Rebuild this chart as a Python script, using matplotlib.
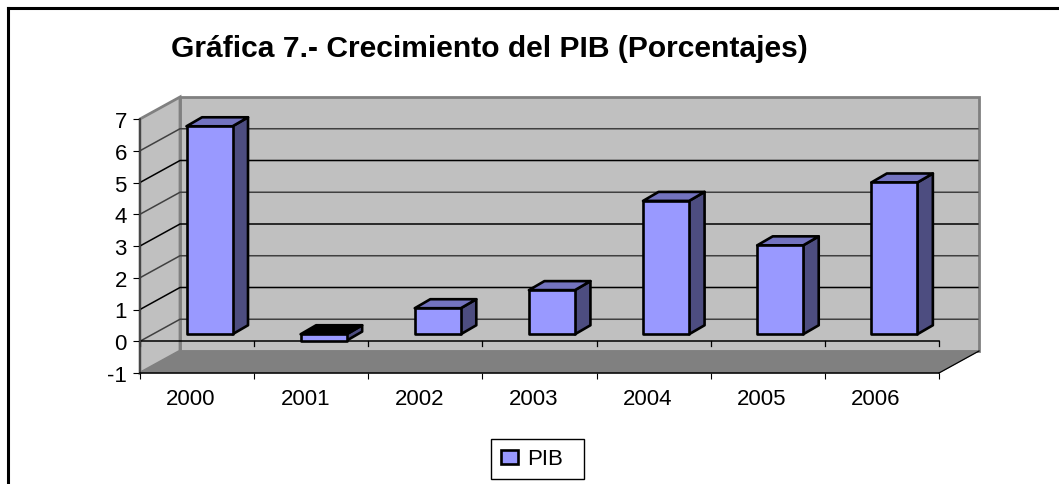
import matplotlib
matplotlib.use("Agg")
import matplotlib.pyplot as plt
from matplotlib.patches import Polygon, Patch, Rectangle
from matplotlib.lines import Line2D

plt.rcParams['font.family'] = ['Liberation Sans', 'DejaVu Sans']

years = ["2000", "2001", "2002", "2003", "2004", "2005", "2006"]
pib = [6.55, -0.2, 0.82, 1.39, 4.2, 2.8, 4.78]
y_ticks = [-1, 0, 1, 2, 3, 4, 5, 6, 7]

W, H = 1059, 485
# depth of the fake 3d box, in data units
box_dx = 40 / 114.14
box_dy = 22 / 31.75
bar_w = 46 / 114.14
bar_off = 46.5 / 114.14
bar_dx = 15.5 / 114.14
bar_dy = 9 / 31.75
bar_base = 7 / 31.75

FRONT = "#9999FF"
TOP = "#7373BF"
SIDE = "#4D4D80"

fig = plt.figure(figsize=(W / 100, H / 100), dpi=100)
ax = fig.add_axes([140 / W, 1 - 374 / H, 799 / W, 254 / H])
ax.set_xlim(0, 7)
ax.set_ylim(-1, 7)
ax.patch.set_visible(False)

# walls and floor
ax.add_patch(Polygon([(box_dx, -1 + box_dy), (7 + box_dx, -1 + box_dy),
                      (7 + box_dx, 7 + box_dy), (box_dx, 7 + box_dy)],
                     fc="#C0C0C0", ec="#808080", lw=2, clip_on=False, zorder=1))
ax.add_patch(Polygon([(0, -1), (box_dx, -1 + box_dy), (box_dx, 7 + box_dy), (0, 7)],
                     fc="#C0C0C0", ec="#808080", lw=2, clip_on=False, zorder=1))
ax.add_patch(Polygon([(0, -1), (7, -1), (7 + box_dx, -1 + box_dy), (box_dx, -1 + box_dy)],
                     fc="#808080", ec="#808080", lw=0.5, clip_on=False, zorder=2))

# gridlines, left wall then back wall
for v in y_ticks[1:-1]:
    c = "#404040" if v % 2 == 0 else "black"
    ax.plot([0, box_dx, 7 + box_dx - 0.01], [v, v + box_dy, v + box_dy],
            color=c, lw=1.1, clip_on=False, zorder=3)
ax.plot([7, 7 + box_dx], [-1, -1 + box_dy], color="black", lw=0.9, clip_on=False, zorder=3)

# bars
for i, v in enumerate(pib):
    x0 = i + bar_off
    x1 = x0 + bar_w
    y0 = bar_base
    y1 = bar_base + v
    top = max(y0, y1)
    low = min(y0, y1)
    top_fc = "black" if v < 0 else TOP
    ax.add_patch(Polygon([(x1, low), (x1 + bar_dx, low + bar_dy), (x1 + bar_dx, top + bar_dy), (x1, top)],
                         fc=SIDE, ec="black", lw=1.9, joinstyle="round", clip_on=False, zorder=4))
    ax.add_patch(Polygon([(x0, top), (x1, top), (x1 + bar_dx, top + bar_dy), (x0 + bar_dx, top + bar_dy)],
                         fc=top_fc, ec="black", lw=1.9, joinstyle="round", clip_on=False, zorder=4))
    ax.add_patch(Polygon([(x0, low), (x1, low), (x1, top), (x0, top)],
                         fc=FRONT, ec="black", lw=1.9, joinstyle="round", clip_on=False, zorder=5))

# zero line with its ticks, in front of the floor
ax.plot([0, 7], [0, 0], color="black", lw=1.1, clip_on=False, zorder=3)
for i in range(8):
    ax.plot([i, i], [0, -5 / 31.75], color="black", lw=0.9, clip_on=False, zorder=3)

for side in ["top", "right"]:
    ax.spines[side].set_visible(False)
ax.spines["left"].set_color("#404040")
ax.spines["left"].set_linewidth(1.3)
ax.spines["left"].set_zorder(6)
ax.spines["bottom"].set_color("black")
ax.spines["bottom"].set_linewidth(1.1)
ax.spines["bottom"].set_zorder(6)

ax.set_yticks(y_ticks)
ax.set_yticklabels([str(v) for v in y_ticks], fontsize=16)
ax.tick_params(axis="y", length=5, width=0.8, pad=4.5, color="black")
ax.set_xticks(range(8))
ax.set_xticklabels([""] * 8)
ax.tick_params(axis="x", which="major", length=4, width=0.8, color="black")
ax.set_xticks([i + 0.5 - 6 / 114.14 for i in range(7)], minor=True)
ax.set_xticklabels(years, minor=True, fontsize=16)
ax.tick_params(axis="x", which="minor", length=0, pad=11)

fig.text(489 / W, 1 - 49 / H, "Gráfica 7.- Crecimiento del PIB (Porcentajes)",
         fontsize=21.6, fontweight="bold", ha="center", va="center")

# legend box is wider on the right than the entry needs, so frame drawn apart
fig.add_artist(Rectangle((491 / W, 1 - 480 / H), 93 / W, 40 / H, transform=fig.transFigure,
                         fc="white", ec="black", lw=1.0))
leg = fig.legend(handles=[Patch(fc=FRONT, ec="black", lw=1.9, label="PIB")],
                 loc="center left", bbox_to_anchor=(491 / W, 1 - 460 / H), fontsize=16,
                 frameon=False, borderaxespad=0,
                 handlelength=0.77, handleheight=0.6, handletextpad=0.4, borderpad=0.45)

# chart frame, only top and left are inside the picture
fig.add_artist(Line2D([7.5 / W, 7.5 / W], [0, 1 - 8.5 / H], color="black", lw=2.2, solid_capstyle="projecting"))
fig.add_artist(Line2D([7.5 / W, 1], [1 - 8.5 / H, 1 - 8.5 / H], color="black", lw=2.2, solid_capstyle="projecting"))

fig.savefig("out.png", dpi=100, facecolor="white")
